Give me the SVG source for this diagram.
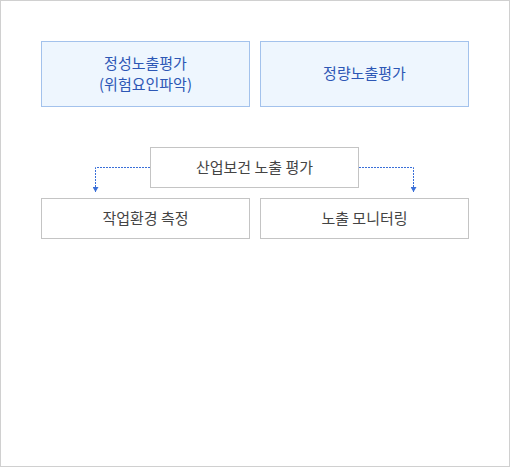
<svg xmlns="http://www.w3.org/2000/svg" width="510" height="467" viewBox="0 0 510 467">
<style>
.blue rect{fill:#eef6fe;stroke:#a3c2ec;stroke-width:1}
.blue text{fill:#2d57b5}
.gray rect{fill:#ffffff;stroke:#c4c4c4;stroke-width:1}
.gray text{fill:#444444}
text{font-family:"Noto Sans CJK KR",sans-serif;font-size:15px;text-anchor:middle}
.conn{fill:none;stroke:#3a6fd8;stroke-width:1;stroke-dasharray:2 1}
</style>
<defs>
<marker id="arr" viewBox="0 0 5 6" refX="5" refY="3" markerWidth="5" markerHeight="6" markerUnits="userSpaceOnUse" orient="auto">
<path d="M0,0 L5,3 L0,6 Z" fill="#3a6fd8"/>
</marker>
</defs>
<rect x="0.5" y="0.5" width="509" height="466" fill="#ffffff" stroke="#d0d0d0"/>
<g id="qualitative" class="blue">
<rect x="41.5" y="41.5" width="208" height="65"/>
<text x="145.5" y="68.5">정성노출평가</text>
<text x="145.5" y="90">(위험요인파악)</text>
</g>
<g id="quantitative" class="blue">
<rect x="260.5" y="41.5" width="208" height="65"/>
<text x="364.5" y="79">정량노출평가</text>
</g>
<g id="industrial" class="gray">
<rect x="150.5" y="147.5" width="208" height="40"/>
<text x="254.5" y="172.5">산업보건 노출 평가</text>
</g>
<g id="workenv" class="gray">
<rect x="41.5" y="198.5" width="208" height="40"/>
<text x="145.5" y="223.5">작업환경 측정</text>
</g>
<g id="monitoring" class="gray">
<rect x="260.5" y="198.5" width="208" height="40"/>
<text x="364.5" y="223.5">노출 모니터링</text>
</g>
<g id="connectors">
<path class="conn" d="M150,167.5 H95.5 V192" marker-end="url(#arr)"/>
<path class="conn" d="M359,167.5 H413.5 V192" marker-end="url(#arr)"/>
</g>
</svg>
